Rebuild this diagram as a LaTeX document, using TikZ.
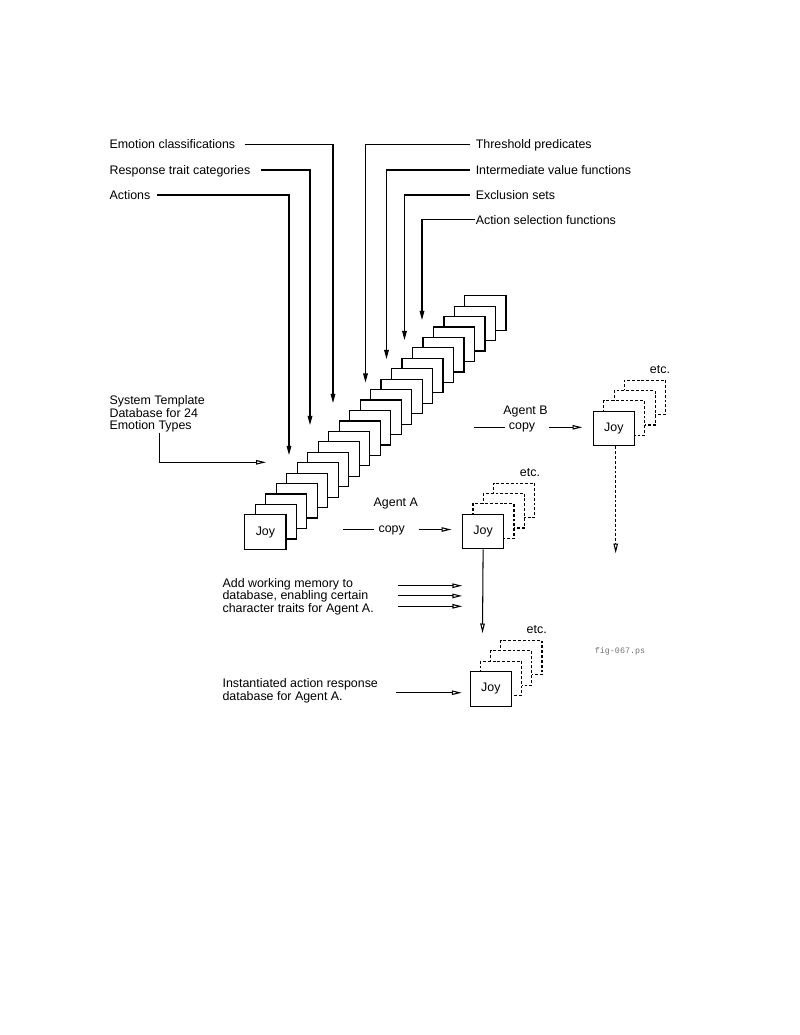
\documentclass[tikz,border=0pt]{standalone}
\usepackage{fontspec}
\setmainfont{Liberation Sans}
\setmonofont{Liberation Mono}
\usetikzlibrary{arrows.meta}
\begin{document}
\begin{tikzpicture}[x=0.765pt,y=-0.765pt,
  lbl/.style={font=\fontsize{9.5}{9.6}\selectfont, inner sep=0pt},
  card/.style={draw, fill=white, line width=0.9pt, minimum width=31.4pt, minimum height=26.4pt, inner sep=0pt, anchor=north west, font=\fontsize{9.5}{9.6}\selectfont},
  dcard/.style={card, dash pattern=on 2.2pt off 1.5pt},
  wire/.style={line width=0.8pt},
  fillarr/.style={wire, -{Triangle[length=7pt,width=3.6pt]}},
  openarr/.style={wire, -{Triangle[open,length=7.5pt,width=3.4pt]}},
]
\path[use as bounding box] (0,0) rectangle (800,1035);

% top labels
\node[lbl, anchor=base west] (emo) at (109.3,148.8) {Emotion classifications};
\node[lbl, anchor=base west] (resp) at (109.3,174.5) {Response trait categories};
\node[lbl, anchor=base west] (act) at (109.3,199.5) {Actions};
\node[lbl, anchor=base west] (thr) at (475.5,148.8) {Threshold predicates};
\node[lbl, anchor=base west] (inter) at (475.5,174.5) {Intermediate value functions};
\node[lbl, anchor=base west] (excl) at (475.5,199.5) {Exclusion sets};
\node[lbl, anchor=base west] (asel) at (475.5,224) {Action selection functions};

\coordinate (emoS) at (245,144.3);   \coordinate (emoT) at (333,403);
\coordinate (respS) at (261,170);    \coordinate (respT) at (310,425);
\coordinate (actS) at (157,195);     \coordinate (actT) at (289,455);
\coordinate (thrS) at (470,144.3);   \coordinate (thrT) at (365.5,382.5);
\coordinate (interS) at (470,170);   \coordinate (interT) at (386.5,359);
\coordinate (exclS) at (470,195);    \coordinate (exclT) at (404.5,340);
\coordinate (aselS) at (474.5,219.5);\coordinate (aselT) at (422,320);

\draw[fillarr] (emoS) -| (emoT);
\draw[fillarr] (respS) -| (respT);
\draw[fillarr] (actS) -| (actT);
\draw[fillarr] (thrS) -| (thrT);
\draw[fillarr] (interS) -| (interT);
\draw[fillarr] (exclS) -| (exclT);
\draw[fillarr] (aselS) -| (aselT);

% card stack
\foreach \i in {21,20,...,1} {
  \node[card] (st\i) at ({244.3+10.476*\i},{514.3-10.44*\i}) {};
}
\node[card] (st0) at (244.3,514.3) {Joy};

% system template
\node[lbl, anchor=north west, align=left] (sys) at (109.3,395.3) {System Template\\Database for 24\\Emotion Types};
\coordinate (sysS) at (159.3,432.7); \coordinate (sysT) at (266,462.3);
\draw[openarr] (sysS) |- (sysT);

% Agent B
\foreach \i in {3,2,1} {
  \node[dcard] (b\i) at ({592.7+10.4*\i},{410.7-10.4*\i}) {};
}
\node[card] (joyB) at (592.7,410.7) {Joy};
\node[lbl, anchor=base] (etcB) at (660,373.3) {etc.};
\node[lbl, anchor=base] (agB) at (525.5,414.5) {Agent B};
\node[lbl, anchor=base] (cpB) at (522,429.8) {copy};
\coordinate (cpBl) at (474,427.3); \coordinate (cpBr) at (505,427.3);
\coordinate (cpBa) at (549.3,427.3); \coordinate (cpBt) at (582.3,427.3);
\draw[wire] (cpBl) -- (cpBr);
\draw[openarr] (cpBa) -- (cpBt);
\coordinate (bDown) at (615.7,553.3);
\draw[openarr, dash pattern=on 2.2pt off 1.5pt] (joyB.south -| bDown) -- (bDown);

% Agent A
\foreach \i in {3,2,1} {
  \node[dcard] (a\i) at ({462+10.4*\i},{513.7-10.4*\i}) {};
}
\node[card] (joyA) at (462,513.7) {Joy};
\node[lbl, anchor=base] (etcA) at (530,476) {etc.};
\node[lbl, anchor=base] (agA) at (395.8,506.5) {Agent A};
\node[lbl, anchor=base] (cpA) at (391.7,532) {copy};
\coordinate (cpAl) at (343,529.5); \coordinate (cpAr) at (374,529.5);
\coordinate (cpAa) at (418.5,529.5); \coordinate (cpAt) at (451.5,529.5);
\draw[wire] (cpAl) -- (cpAr);
\draw[openarr] (cpAa) -- (cpAt);
\coordinate (aDown) at (482.5,633.3);
\draw[openarr] (joyA.south) -- (aDown);

% working memory
\node[lbl, anchor=north west, align=left] (wm) at (222.3,578) {Add working memory to\\database, enabling certain\\character traits for Agent A.};
\coordinate (wm1s) at (398.3,585.7); \coordinate (wm1t) at (462.3,585.7);
\coordinate (wm2s) at (398.3,595.9); \coordinate (wm2t) at (462.3,595.9);
\coordinate (wm3s) at (398.3,606.3); \coordinate (wm3t) at (462.3,606.3);
\draw[openarr] (wm1s) -- (wm1t);
\draw[openarr] (wm2s) -- (wm2t);
\draw[openarr] (wm3s) -- (wm3t);

% instantiated
\foreach \i in {3,2,1} {
  \node[dcard] (c\i) at ({469.7+10.2*\i},{671-10.4*\i}) {};
}
\node[card] (joyC) at (469.7,671) {Joy};
\node[lbl, anchor=base] (etcC) at (536.7,633.3) {etc.};
\node[lbl, anchor=north west, align=left] (inst) at (222.3,678.3) {Instantiated action response\\database for Agent A.};
\coordinate (insS) at (395.7,692.7); \coordinate (insT) at (461.7,692.7);
\draw[openarr] (insS) -- (insT);

\node[font=\ttfamily\fontsize{6.4}{7}\selectfont, text=black!55, inner sep=0pt] (fig) at (620,651) {fig-067.ps};
\end{tikzpicture}
\end{document}
